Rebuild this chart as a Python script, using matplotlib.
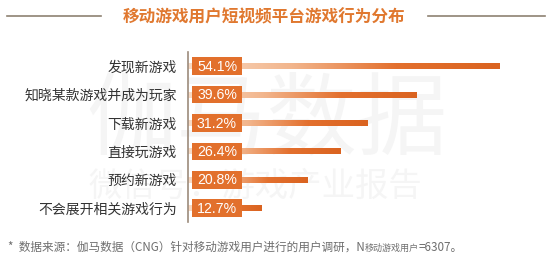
import numpy as np
import matplotlib
matplotlib.use("Agg")
import matplotlib.pyplot as plt
from matplotlib.colors import LinearSegmentedColormap
from matplotlib.patches import Rectangle

plt.rcParams['font.family'] = ['Noto Sans CJK SC', 'DejaVu Sans']

# data
categories = ['发现新游戏', '知晓某款游戏并成为玩家', '下载新游戏', '直接玩游戏', '预约新游戏', '不会展开相关游戏行为']
values = [54.1, 39.6, 31.2, 26.4, 20.8, 12.7]
value_labels = ['54.1%', '39.6%', '31.2%', '26.4%', '20.8%', '12.7%']
title = '移动游戏用户短视频平台游戏行为分布'

orange = '#E2702C'
bar_cmap = LinearSegmentedColormap.from_list('bar', ['#F9DCC6', '#F2B58C', '#E3702E', '#DA6320'])

W, H = 550, 268
fig = plt.figure(figsize=(W / 100, H / 100), dpi=100)
fig.patch.set_facecolor('white')

# watermark (behind everything)
fig.text(86 / W, 1 - 122 / H, '伽马数据', fontsize=65, color='#F5F5F5', va='center', ha='left', zorder=-5)
fig.text(88 / W, 1 - 186 / H, '微信号：游戏产业报告', fontsize=24, color='#F5F5F5', va='center', ha='left', zorder=-5)

ax = fig.add_axes([188 / W, 1 - 222.4 / H, 346 / W, 170.4 / H])
ax.set_facecolor('none')
ax.set_xlim(0, 60)
ax.set_ylim(len(categories) - 0.5, -0.5)

bar_h = 0.21
grad = np.linspace(0, 1, 256).reshape(1, -1)
for i, v in enumerate(values):
    ax.imshow(grad, cmap=bar_cmap, extent=(0, v, i + bar_h / 2, i - bar_h / 2),
              aspect='auto', zorder=2, interpolation='bilinear')
    # value label box
    ax.add_patch(Rectangle((0.7, i - 0.31), 8.66, 0.62, facecolor=orange, edgecolor='none', zorder=3))
    ax.text(0.7 + 8.66 / 2, i + 0.02, value_labels[i], color='white', fontsize=10.2,
            family=['Liberation Sans', 'DejaVu Sans'], ha='center', va='center', zorder=4)

ax.set_xlim(0, 60)
ax.set_ylim(len(categories) - 0.5, -0.5)
ax.set_yticks(range(len(categories)))
ax.set_yticklabels(categories, fontsize=10, color='#333333')
ax.tick_params(axis='y', length=0, pad=8)
ax.set_xticks([])
for s in ['top', 'right', 'bottom']:
    ax.spines[s].set_visible(False)
ax.spines['left'].set_color('#9C8B7C')
ax.spines['left'].set_linewidth(1.2)

# title with side rules
fig.text(264 / W, 1 - 17 / H, title, fontsize=12, fontweight='bold', color='#E0782F', ha='center', va='center')
fig.add_artist(plt.Line2D([7 / W, 101 / W], [1 - 16 / H, 1 - 16 / H], color='#8E8272', lw=1.2))
fig.add_artist(plt.Line2D([428 / W, 545 / W], [1 - 16 / H, 1 - 16 / H], color='#8E8272', lw=1.2))

# footnote
fig.canvas.draw()
r = fig.canvas.get_renderer()
t1 = fig.text(8 / W, 1 - 247 / H, '*  数据来源：伽马数据（CNG）针对移动游戏用户进行的用户调研，N',
              fontsize=8.4, color='#6E6E6E', ha='left', va='center')
x = t1.get_window_extent(r).x1
t2 = fig.text(x / W, 1 - 248.5 / H, '移动游戏用户', fontsize=6.5, color='#6E6E6E', ha='left', va='center')
x = t2.get_window_extent(r).x1
fig.text(x / W, 1 - 247 / H, '=6307。', fontsize=8.4, color='#6E6E6E', ha='left', va='center')

fig.savefig('out.png', dpi=100, facecolor='white')
